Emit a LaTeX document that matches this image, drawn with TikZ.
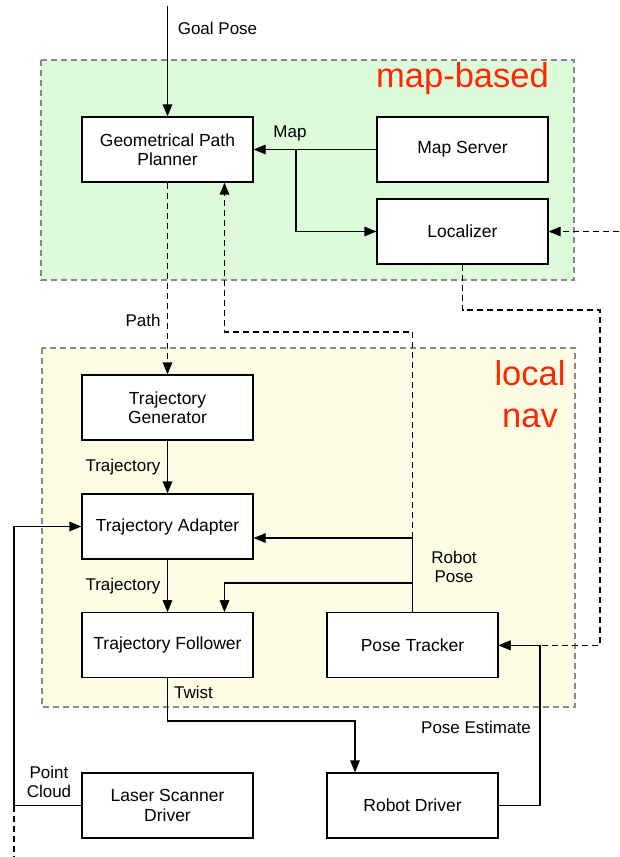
\documentclass[tikz,border=0pt]{standalone}
\usepackage{fontspec}
\setmainfont{Liberation Sans}
\usetikzlibrary{arrows.meta}
\definecolor{mapgreen}{RGB}{221,250,219}
\definecolor{navyellow}{RGB}{253,253,229}
\definecolor{titlered}{RGB}{255,38,0}
\definecolor{zoneborder}{RGB}{136,136,136}
\tikzset{
  box/.style={draw=black, line width=1.2pt, fill=white, minimum width=171pt, minimum height=65pt,
    inner sep=0pt, align=center, font=\fontsize{17.5}{19.5}\selectfont},
  zone/.style={draw=zoneborder, line width=1.1pt, dash pattern=on 6pt off 4pt},
  conn/.style={line width=1.2pt, -{Triangle[length=12pt,width=9.5pt]}},
  plain/.style={line width=1.2pt},
  dsh/.style={dash pattern=on 6pt off 4pt},
  lbl/.style={font=\fontsize{17}{19.5}\selectfont, align=center, inner sep=0pt},
  ttl/.style={font=\fontsize{34.5}{42}\selectfont, text=titlered, align=center, inner sep=0pt}
}
\begin{document}
\begin{tikzpicture}[x=1pt, y=-1pt]
\useasboundingbox (0,0) rectangle (619,857);
\fill[white] (0,0) rectangle (619,857);
% zones
\draw[zone, fill=mapgreen] (41,60) rectangle (574,280);
\draw[zone, fill=navyellow] (42,348) rectangle (575,707);
\node[ttl] (tmap) at (462.5,79) {map-based};
\node[ttl] (tnav) at (530,394) {local\\nav};
% boxes
\node[box] (gpp) at (167.5,149.5) {Geometrical Path\\Planner};
\node[box] (ms)  at (462.5,149.5) {Map Server};
\node[box] (loc) at (462.5,231.5) {Localizer};
\node[box] (tg)  at (167.5,407.5) {Trajectory\\Generator};
\node[box] (ta)  at (167.5,526.5) {Trajectory Adapter};
\node[box] (tf)  at (167.5,645.3) {Trajectory Follower};
\node[box] (pt)  at (412.5,645.3) {Pose Tracker};
\node[box] (rd)  at (412.5,805.5) {Robot Driver};
\node[box] (lsd) at (167.5,805.5) {Laser Scanner\\Driver};
% coordinates
\coordinate (gp) at (167.5,6);
\coordinate (mapj) at (296,149.5);
\coordinate (locin) at (619,231.5);
\coordinate (rpA) at (412.5,538);
\coordinate (rpB) at (412.5,583);
\coordinate (rpC) at (412.5,332);
\coordinate (lc1) at (600,310);
\coordinate (pe) at (540,805.5);
\coordinate (tw) at (355,721);
\coordinate (pc) at (14,805.5);
\coordinate (pcd) at (14,857);
% connectors
\draw[conn] (gp) -- (gpp.north);
\draw[conn] (ms.west) -- (gpp.east);
\draw[conn] (mapj) |- (loc.west);
\draw[conn, dsh] (locin) -- (loc.east);
\draw[conn, dsh] (gpp.south) -- (tg.north);
\draw[conn] (tg.south) -- (ta.north);
\draw[conn] (ta.south) -- (tf.north);
\draw[conn] (pt.north) -- (rpA) -- (ta.east |- rpA);
\draw[conn] (rpB) -| ([xshift=57pt]tf.north);
\draw[conn, dsh] (rpA) -- (rpC) -| ([xshift=57pt]gpp.south);
\draw[conn, dsh] (loc.south) |- (lc1) |- (pt.east);
\draw[conn] (rd.east) -- (pe) |- (pt.east);
\draw[conn] (tf.south) |- (tw) -- (tw |- rd.north);
\draw[conn] (lsd.west) -- (pc) |- (ta.west);
\draw[plain, dsh] (pc) -- (pcd);
% labels
\node[lbl] (lgoal) at (217.5,28) {Goal Pose};
\node[lbl] (lmap) at (290,133) {Map};
\node[lbl] (lpath) at (143,320) {Path};
\node[lbl] (ltr1) at (123,467) {Trajectory};
\node[lbl] (ltr2) at (123,586) {Trajectory};
\node[lbl] (lrp) at (454,567) {Robot\\Pose};
\node[lbl] (ltw) at (193.5,692) {Twist};
\node[lbl] (lpe) at (476,727) {Pose Estimate};
\node[lbl] (lpc) at (49,782) {Point\\Cloud};
\end{tikzpicture}
\end{document}
